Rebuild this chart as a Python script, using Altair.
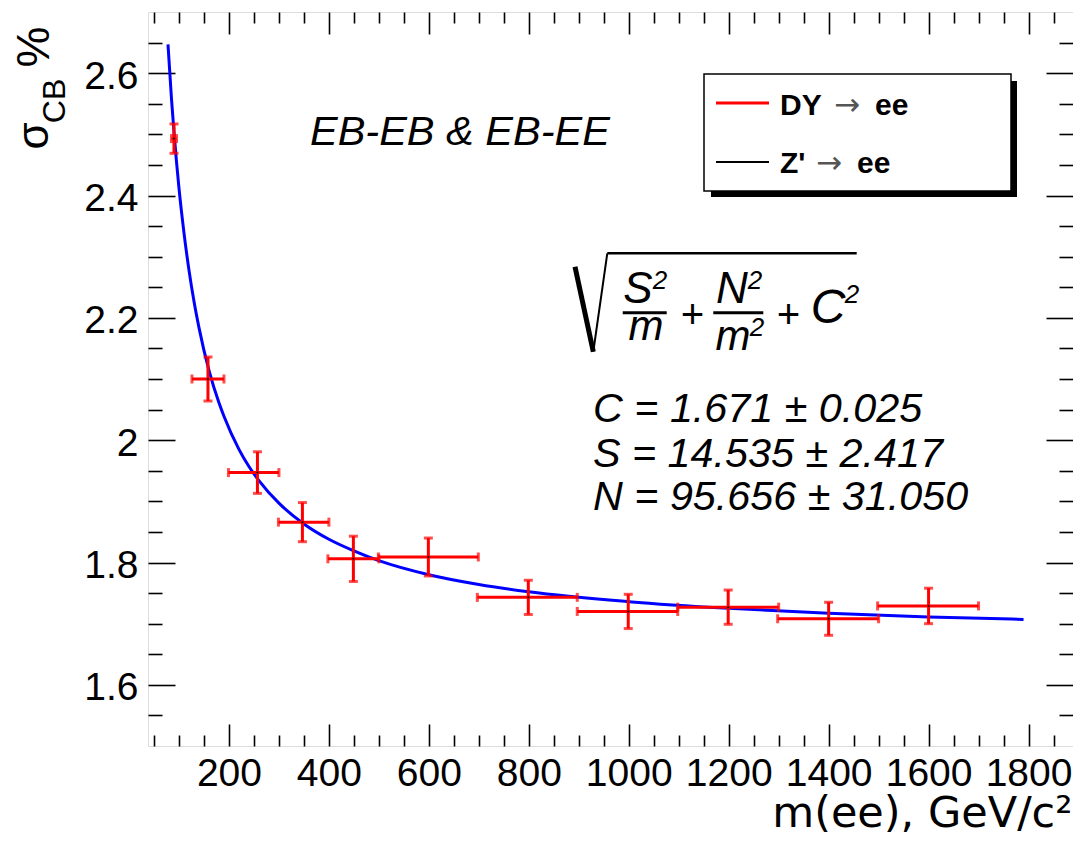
import altair as alt
import pandas as pd

# ---- data ----
m_center = [90, 158, 257, 347, 449, 599, 799, 999, 1199, 1400, 1600]
m_low = [85, 126, 199, 299, 398, 499, 697, 897, 1098, 1298, 1498]
m_high = [95, 190, 300, 400, 500, 699, 897, 1098, 1300, 1500, 1700]
sigma = [2.493, 2.100, 1.947, 1.866, 1.806, 1.809, 1.743, 1.720, 1.727, 1.708, 1.729]
sigma_err = [0.024, 0.036, 0.034, 0.032, 0.037, 0.031, 0.028, 0.028, 0.028, 0.027, 0.029]

# fitted curve
fit_m = [78, 85, 90, 100, 110, 120, 130, 140, 160, 180, 190, 220, 240, 260, 300, 350,
         400, 450, 500, 600, 700, 800, 1000, 1200, 1400, 1600, 1790]
fit_sigma = [2.647, 2.558, 2.504, 2.412, 2.339, 2.278, 2.227, 2.184, 2.114, 2.061, 2.039,
             1.985, 1.957, 1.934, 1.897, 1.863, 1.838, 1.819, 1.803, 1.780, 1.764, 1.752,
             1.736, 1.725, 1.717, 1.711, 1.707]

x_major = [200, 400, 600, 800, 1000, 1200, 1400, 1600, 1800]
x_minor = [50, 100, 150, 250, 300, 350, 450, 500, 550, 650, 700, 750, 850, 900, 950,
           1050, 1100, 1150, 1250, 1300, 1350, 1450, 1500, 1550, 1650, 1700, 1750, 1850]
y_major = [1.6, 1.8, 2.0, 2.2, 2.4, 2.6]
y_minor = [1.55, 1.65, 1.7, 1.75, 1.85, 1.9, 1.95, 2.05, 2.1, 2.15, 2.25, 2.3, 2.35,
           2.45, 2.5, 2.55, 2.65]

pts = pd.DataFrame({"m": m_center, "lo": m_low, "hi": m_high, "s": sigma, "e": sigma_err})
pts["slo"] = pts["s"] - pts["e"]
pts["shi"] = pts["s"] + pts["e"]
fit = pd.DataFrame({"m": fit_m, "s": fit_sigma})

hcaps = pd.DataFrame({"x": m_low + m_high, "y": sigma + sigma})
vcaps = pd.DataFrame({"x": list(pts["m"]) * 2, "y": list(pts["slo"]) + list(pts["shi"])})

W, H = 925, 734
FONT = "Liberation Sans"
xscale = alt.Scale(domain=[38, 1889], zero=False, nice=False)
yscale = alt.Scale(domain=[1.5, 2.7], zero=False, nice=False)


def tick_axis(orient, values, size, **kw):
    return alt.Axis(orient=orient, values=values, tickSize=size, offset=-size, domain=False,
                    grid=False, tickColor="black", tickWidth=1.6, **kw)


no_lab = dict(labels=False, title=None)

curve = alt.Chart(fit).mark_line(color="#0000ff", strokeWidth=3, interpolate="monotone").encode(
    x=alt.X("m:Q", scale=xscale, axis=tick_axis(
        "bottom", x_major, 22, labels=True, format="d", labelFont=FONT, labelFontSize=39,
        labelColor="black", labelPadding=8, labelFlush=False,
        title="m(ee), GeV/c²", titleFont="DejaVu Sans", titleFontSize=43,
        titleFontWeight="normal", titleColor="black", titleAnchor="end", titleAlign="right",
        titleBaseline="alphabetic", titleX=W - 1, titleY=102)),
    y=alt.Y("s:Q", scale=yscale, axis=tick_axis(
        "left", y_major, 27, labels=True, format=".2~g", labelFont=FONT, labelFontSize=39,
        labelColor="black", labelPadding=10, labelOffset=3, labelFlush=False, title=None)),
)

hbar = alt.Chart(pts).mark_rule(color="#ff0000", strokeWidth=3).encode(
    x=alt.X("lo:Q", scale=xscale, axis=tick_axis("bottom", x_minor, 11, **no_lab)),
    x2="hi:Q",
    y=alt.Y("s:Q", scale=yscale, axis=tick_axis("left", y_minor, 14, **no_lab)),
)

vbar = alt.Chart(pts).mark_rule(color="#ff0000", strokeWidth=3).encode(
    x=alt.X("m:Q", scale=xscale, axis=tick_axis("top", x_major, 22, **no_lab)),
    y=alt.Y("slo:Q", scale=yscale, axis=tick_axis("right", y_major, 27, **no_lab)),
    y2="shi:Q",
)

hcap = alt.Chart(hcaps).mark_tick(color="#ff0000", orient="vertical", size=9, thickness=3).encode(
    x=alt.X("x:Q", scale=xscale, axis=tick_axis("top", x_minor, 11, **no_lab)),
    y=alt.Y("y:Q", scale=yscale, axis=tick_axis("right", y_minor, 14, **no_lab)),
)

vcap = alt.Chart(vcaps).mark_tick(color="#ff0000", orient="horizontal", size=9, thickness=3).encode(
    x=alt.X("x:Q", scale=xscale, axis=None),
    y=alt.Y("y:Q", scale=yscale, axis=None),
)

dots = alt.Chart(pts).mark_circle(color="black", size=4, opacity=1).encode(
    x=alt.X("m:Q", scale=xscale, axis=None),
    y=alt.Y("s:Q", scale=yscale, axis=None),
)

ONE = alt.Data(values=[{}])


def txt(s, x, y, size, font=FONT, style="normal", weight="normal", align="left",
        baseline="alphabetic", color="black", angle=0):
    return alt.Chart(ONE).mark_text(text=s, fontSize=size, font=font, fontStyle=style,
                                    fontWeight=weight, align=align, baseline=baseline,
                                    color=color, angle=angle).encode(
        x=alt.value(x), y=alt.value(y))


def seg(x1, y1, x2, y2, width, color="black"):
    return alt.Chart(ONE).mark_rule(color=color, strokeWidth=width).encode(
        x=alt.value(x1), y=alt.value(y1), x2=alt.value(x2), y2=alt.value(y2))


def box(x1, y1, x2, y2, fill, stroke=None, sw=0):
    kw = dict(fill=fill, strokeWidth=sw)
    if stroke:
        kw["stroke"] = stroke
    return alt.Chart(ONE).mark_rect(**kw).encode(
        x=alt.value(x1), y=alt.value(y1), x2=alt.value(x2), y2=alt.value(y2))


deco = [
    # legend
    box(563, 69, 869, 185, "black"),
    box(556, 62, 863, 179, "white", "black", 1.5),
    seg(568, 91, 621, 91, 3, "#ff0000"),
    seg(568, 150, 621, 150, 2, "black"),
    txt("DY", 632, 103, 30, weight="bold"),
    txt("→", 686, 103, 31, font="DejaVu Sans", color="#555555"),
    txt("ee", 727, 103, 30, weight="bold"),
    txt("Z'", 632, 161, 30, weight="bold"),
    txt("→", 668, 161, 31, font="DejaVu Sans", color="#555555"),
    txt("ee", 709, 161, 30, weight="bold"),
    # region label
    txt("EB-EB & EB-EE", 162, 133, 41.5, style="italic"),
    # formula
    seg(427, 254.7, 445.3, 339.7, 5),
    seg(445.3, 339.7, 459.3, 241.3, 2),
    seg(459.3, 241.3, 708.7, 241.3, 2.5),
    txt("S", 490, 291, 44, style="italic", align="center"),
    txt("2", 512, 277, 26, style="italic", align="center"),
    seg(474.7, 300.7, 518.7, 300.7, 3),
    txt("m", 498, 328, 42, style="italic", align="center"),
    txt("+", 544, 316, 40, style="italic", align="center"),
    txt("N", 584, 291, 44, style="italic", align="center"),
    txt("2", 607, 277, 26, style="italic", align="center"),
    seg(565.3, 300.7, 615.3, 300.7, 3),
    txt("m", 585, 338, 42, style="italic", align="center"),
    txt("2", 609, 324, 26, style="italic", align="center"),
    txt("+", 640, 316, 40, style="italic", align="center"),
    txt("C", 680, 311, 48, style="italic", align="center"),
    txt("2", 704, 291, 26, style="italic", align="center"),
    # fit results
    txt("C = 1.671 ± 0.025", 445, 410, 41.3, style="italic"),
    txt("S = 14.535 ± 2.417", 445, 455, 41.3, style="italic"),
    txt("N = 95.656 ± 31.050", 445, 498, 41.3, style="italic"),
    # y title
    txt("σ", -100, 124, 44, align="center", angle=270),
    txt("CB", -83, 89, 32, align="center", angle=270),
    txt("%", -99, 35, 46, align="center", angle=270),
]

chart = alt.layer(curve, hbar, vbar, hcap, vcap, dots, *deco).resolve_axis(
    x="independent", y="independent"
).properties(
    width=W, height=H,
    autosize=alt.AutoSizeParams(type="none"),
    padding={"left": 140, "top": 4, "right": 0, "bottom": 90},
).configure_view(stroke="black", strokeWidth=2).configure(background="white")

chart.save("out.html", embed_options={"renderer": "svg", "actions": False})
